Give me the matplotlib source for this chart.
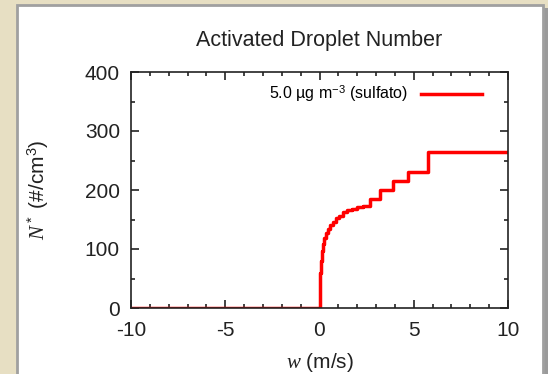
import matplotlib
matplotlib.use("Agg")
import matplotlib.pyplot as plt
from matplotlib.patches import Rectangle
from matplotlib.ticker import MultipleLocator

# staircase: w (m/s) and N* (#/cm3), step holds until next w
w_steps = [-10.0, 0.03, 0.05, 0.08, 0.12, 0.18, 0.25, 0.33, 0.45, 0.56, 0.70,
           0.85, 1.05, 1.25, 1.45, 1.70, 2.00, 2.30, 2.68, 3.20, 3.92, 4.71,
           5.75, 10.0]
n_steps = [0, 30, 60, 80, 96, 108, 118, 127, 134, 140, 146,
           152, 156, 162, 166, 168, 171, 173, 184, 200, 216, 231,
           264, 264]

title = "Activated Droplet Number"
series_label = "5.0 \u00b5g m$^{-3}$ (sulfato)"
x_ticks = [-10, -5, 0, 5, 10]
y_ticks = [0, 100, 200, 300, 400]

plt.rcParams['font.family'] = ['Liberation Sans', 'DejaVu Sans']
plt.rcParams['mathtext.fontset'] = 'custom'
plt.rcParams['mathtext.rm'] = 'Liberation Sans'
plt.rcParams['mathtext.it'] = 'Liberation Serif:italic'
plt.rcParams['axes.unicode_minus'] = False

fig = plt.figure(figsize=(5.48, 3.74), dpi=100)
fig.patch.set_facecolor('#e7dfc3')

# white panel with grey border and shadow, kept behind the axes
fig.patches.append(Rectangle((543/548, 0), 5/548, 1 - 8/374, transform=fig.transFigure,
                             facecolor='#9a9a9a', edgecolor='none', zorder=-2))
fig.patches.append(Rectangle((17/548, -0.01), (543 - 17)/548, 1 - 5/374 + 0.01,
                             transform=fig.transFigure, facecolor='white',
                             edgecolor='#a0a0a0', linewidth=2, zorder=-1))

ax = fig.add_axes([131/548, 1 - 308/374, (508 - 131)/548, (308 - 72)/374])
ax.set_facecolor('white')

ax.plot(w_steps, n_steps, drawstyle='steps-post', color='#ff0000', lw=2.5,
        label=series_label, zorder=2)

ax.set_xlim(-10, 10)
ax.set_ylim(0, 400)
ax.set_xticks(x_ticks)
ax.set_yticks(y_ticks)
ax.xaxis.set_minor_locator(MultipleLocator(1))
ax.yaxis.set_minor_locator(MultipleLocator(50))
ax.tick_params(which='both', direction='in', top=True, right=True,
               labelsize=15, colors='#222222', width=1.2)
ax.tick_params(axis='x', which='major', pad=9)
ax.tick_params(axis='y', which='major', pad=8)
ax.tick_params(which='major', length=6)
ax.tick_params(which='minor', length=3)
for s in ax.spines.values():
    s.set_linewidth(1.2)
    s.set_color('#222222')
    s.set_zorder(3)

ax.set_title(title, fontsize=15.5, color='#222222', pad=19)
ax.set_xlabel("$w$ (m/s)", fontsize=15, color='#222222', labelpad=8)
ax.set_ylabel("$N^*$ (#/cm$^3$)", fontsize=15, color='#222222', labelpad=24)

ax.legend(loc='upper right', frameon=False, markerfirst=False, fontsize=11.5,
          handlelength=3.8, borderaxespad=0.3, bbox_to_anchor=(0.96, 1.0))

fig.savefig('out.png', dpi=100, facecolor=fig.get_facecolor())
